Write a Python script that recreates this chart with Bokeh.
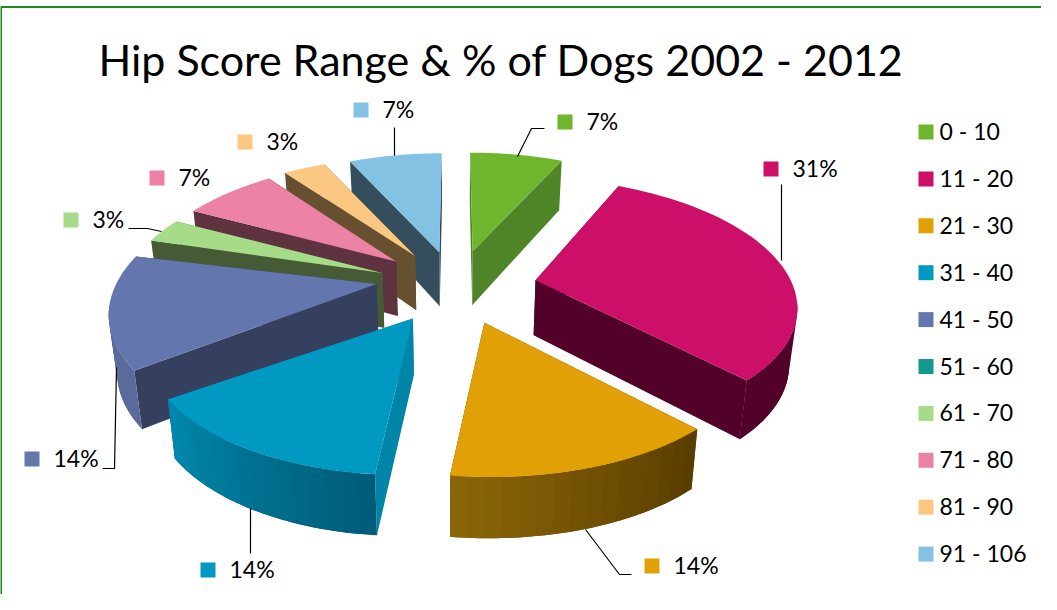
import math
from bokeh.plotting import figure
from bokeh.models import Range1d
from bokeh.core.properties import value
from bokeh.embed import file_html
from bokeh.resources import INLINE

TITLE = "Hip Score Range & % of Dogs 2002 - 2012"
categories = ["0 - 10", "11 - 20", "21 - 30", "31 - 40", "41 - 50", "51 - 60", "61 - 70", "71 - 80", "81 - 90", "91 - 106"]
percents = [7, 31, 14, 14, 14, 0, 3, 7, 3, 7]
top_colors = ["#70b52e", "#cc0f68", "#e0a006", "#0099c2", "#6476ae", "#139a8a", "#a6dc88", "#ec82a4", "#fcc780", "#83c2e3"]
radial_colors = ["#4f8526", "#52022a", "#5a3d00", "#0085a8", "#353f5e", "#0b5a50", "#455a35", "#5f3240", "#665030", "#344e5e"]
outer_start = ["#4f8526", "#52022a", "#5a3d00", "#005c78", "#5a6a9a", "#0b5a50", "#455a35", "#5f3240", "#665030", "#344e5e"]
outer_end = ["#4f8526", "#52022a", "#8a6508", "#0087ad", "#5a6a9a", "#0b5a50", "#455a35", "#5f3240", "#665030", "#344e5e"]
# how far each slice is pulled out of the pie (plane units) and how it sits in the view
shift_x = [.069, .309, .105, -.156, -.303, 0, -.285, -.235, -.161, -.065]
shift_y = [.218, -.022, -.34, -.31, -.051, 0, .037, .13, .177, .21]
scale_x = [1, .985, .97, .96, 1, 1, 1, 1, 1.05, 1]
scale_y = [1, .955, .90, .92, 1, 1, 1, 1, 1, 1]
turn_deg = [0, 0, 0, -2, -5, 0, -2, -1.5, 0, 0]

CX, CY, A, B, P = 463, 285, 258, 125, .18

def proj(X, Y, z=0.0):
    w = 1 + P * Y
    sx = A * X / w
    sy = -B * Y / w
    d = 55 - 5 * Y
    return CX + sx * (1 - .024 * z), CY + sy + d * z

def hexlerp(a, b, t):
    ca = [int(a[i:i + 2], 16) for i in (1, 3, 5)]
    cb = [int(b[i:i + 2], 16) for i in (1, 3, 5)]
    return "#%02x%02x%02x" % tuple(round(x + (y - x) * t) for x, y in zip(ca, cb))

p = figure(width=1041, height=594, x_range=Range1d(8, 1049), y_range=Range1d(602, 8),
           output_backend="svg", toolbar_location=None, min_border=0)
p.axis.visible = False
p.grid.visible = False
p.outline_line_color = None
p.background_fill_color = "white"

# border (top and left edges are the ones inside the picture)
p.line([8.5, 8.5, 1049], [602, 14.5, 14.5], line_color="#1a8a1a", line_width=2)

total = sum(percents)
angles = [0]
for v in percents:
    angles.append(angles[-1] + v / total * 2 * math.pi)

order = sorted([i for i, v in enumerate(percents) if v > 0],
               key=lambda i: -(shift_y[i] + math.cos((angles[i] + angles[i + 1]) / 2)))

xs, ys, cols = [], [], []
def add(poly, col):
    xs.append([q[0] for q in poly])
    ys.append([q[1] for q in poly])
    cols.append(col)

BAND = 3
for i in order:
    turn = math.radians(turn_deg[i])
    a0, a1 = angles[i] + turn, angles[i + 1] + turn
    ax, ay = shift_x[i], shift_y[i]
    n = 48
    ths = [a0 + (a1 - a0) * k / n for k in range(n + 1)]
    pts = [(ax + scale_x[i] * math.sin(t), ay + scale_y[i] * math.cos(t)) for t in ths]
    # radial walls
    for q in (pts[0], pts[-1]):
        add([proj(ax, ay), proj(*q), proj(*q, 1), proj(ax, ay, 1)], radial_colors[i])
    # outer wall, only the part that faces the viewer, in overlapping bands
    front = [k for k in range(n + 1) if math.cos(ths[k]) < -.15]
    if len(front) > 1:
        first, last = front[0], front[-1]
        starts = list(range(first, last, BAND))
        for j, k in enumerate(starts):
            f = j / max(1, len(starts) - 1)
            span = pts[k:min(k + BAND * 2, last) + 1]
            add([proj(*q) for q in span] + [proj(*q, 1) for q in reversed(span)],
                hexlerp(outer_start[i], outer_end[i], f))
    add([proj(ax, ay)] + [proj(*q) for q in pts], top_colors[i])

p.patches(xs, ys, fill_color=cols, line_color=None)

# leader lines
lead_x = [[402, 402], [136, 155, 169], [110, 122, 124], [258, 258], [593, 627, 639], [789, 789], [525, 539, 552]]
lead_y = [[135, 163], [236, 236, 239], [476, 476, 375], [516, 561], [537, 582, 582], [192, 268], [164, 136, 136]]
p.multi_line(lead_x, lead_y, line_color="black", line_width=1.2)

font = value("Lato")
# data labels
lab_idx = [9, 8, 7, 6, 4, 3, 2, 1, 0]
lab_sq_x = [368.5, 252.5, 164.5, 78.5, 39.5, 215.5, 659.5, 778.5, 572.5]
lab_sq_y = [117.5, 149.5, 185.5, 227.5, 466.5, 577.5, 573.5, 176.5, 129.5]
p.scatter(lab_sq_x, lab_sq_y, marker="square", size=15, fill_color=[top_colors[i] for i in lab_idx], line_color=None)
p.text([x + 21.5 for x in lab_sq_x], [y - 1 for y in lab_sq_y], text=[f"{percents[i]}%" for i in lab_idx],
       text_font=font, text_font_size="23px", text_color="black", text_baseline="middle")

# legend
leg_y = [139.5 + 46.9 * k for k in range(len(categories))]
p.scatter([933.5] * len(categories), leg_y, marker="square", size=15, fill_color=top_colors, line_color=None)
p.text([947] * len(categories), [y - 1 for y in leg_y], text=categories, text_font=font, text_font_size="23px",
       text_color="black", text_baseline="middle")

p.text([508.5], [67], text=[TITLE], text_font=font, text_font_size="43px", text_color="black",
       text_align="center", text_baseline="middle")

open("out.html", "w").write(file_html(p, INLINE))
